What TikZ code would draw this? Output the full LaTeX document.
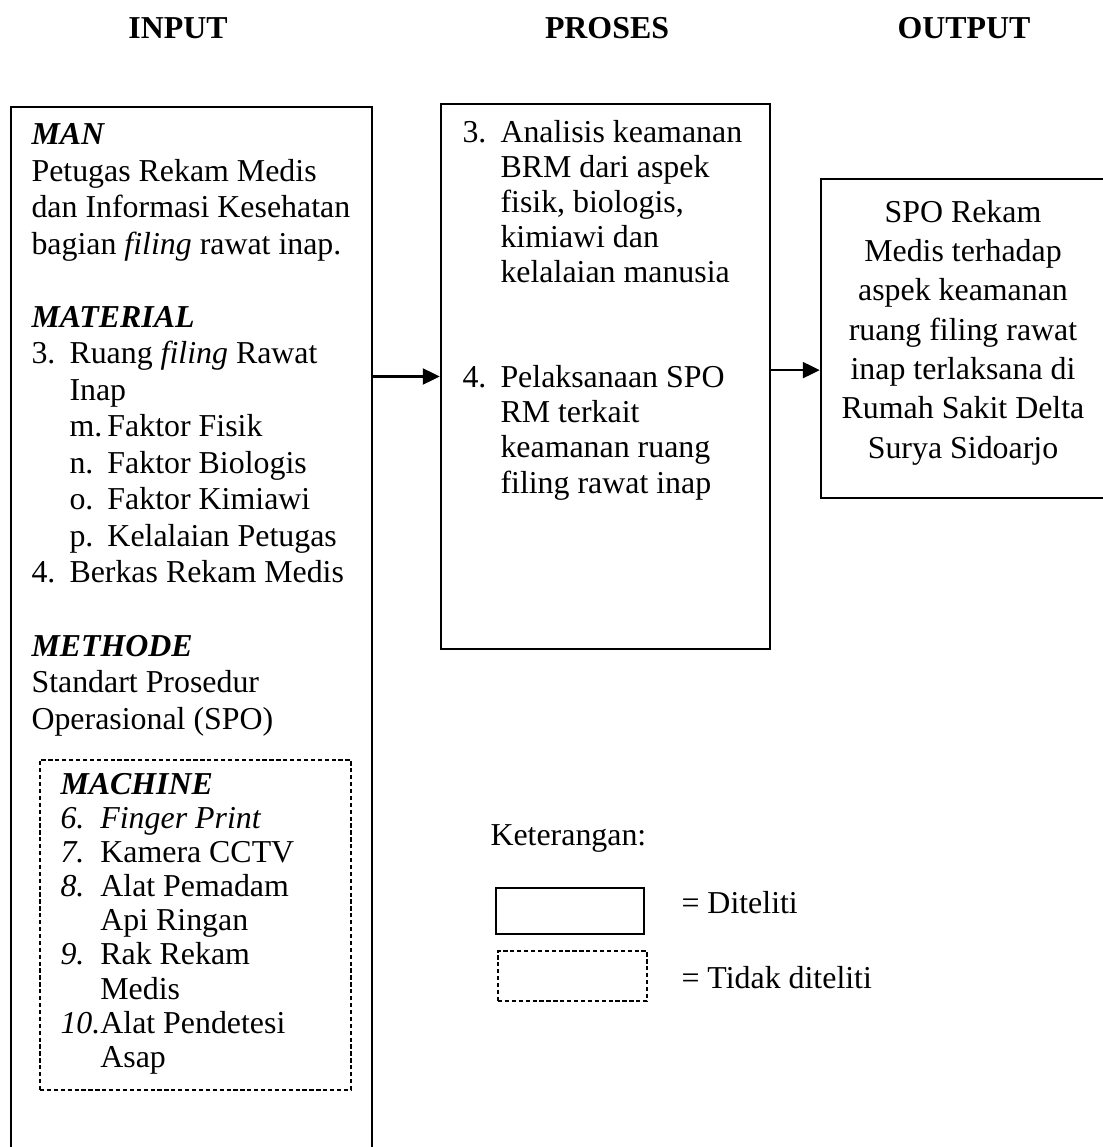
\documentclass[tikz,border=0pt]{standalone}
\usepackage{fontspec}
\setmainfont{Liberation Serif}
\usetikzlibrary{arrows.meta, positioning, fit}

\newcommand{\lbl}[2][14.3pt]{\makebox[#1][l]{#2}}

\begin{document}
\begin{tikzpicture}[
    x=0.3764pt, y=-0.3764pt,
    box/.style={draw, line width=0.9pt, inner sep=0pt},
    dashbox/.style={box, line width=0.75pt, dash pattern=on 1.6pt off 1pt},
    txt/.style={anchor=base west, inner sep=0pt, align=left, font=\fontsize{12}{#1}\selectfont},
    txt/.default=13.74pt,
    heading/.style={anchor=base, inner sep=0pt, font=\fontsize{12}{14}\selectfont\bfseries},
    flow/.style={-{Triangle[length=6.4pt, width=6pt]}, line width=0.9pt}
  ]
  \useasboundingbox (0,0) rectangle (1103,1147);
  \clip (0,0) rectangle (1103,1147);

  \node[heading] (inputhead) at (178,39) {INPUT};
  \node[heading] (proseshead) at (607,39) {PROSES};
  \node[heading] (outputhead) at (964,39) {OUTPUT};

  \node[box, fit={(11,107) (372,1160)}] (input) {};
  \node[box, fit={(441,104) (770,649)}] (proses) {};
  \node[box, fit={(821,179) (1115,498)}] (output) {};
  \node[dashbox, fit={(40,760) (351,1090)}] (machine) {};

  % anchor base = baseline of the last line
  \node[txt] (inputtext) at (31,729) {%
    \textbf{\textit{MAN}}\\
    Petugas Rekam Medis\\
    dan Informasi Kesehatan\\
    bagian \textit{filing} rawat inap.\\[13.74pt]
    \textbf{\textit{MATERIAL}}\\
    \lbl{3.}Ruang \textit{filing} Rawat\\
    \hspace*{14.3pt}Inap\\
    \hspace*{14.3pt}\lbl{m.}Faktor Fisik\\
    \hspace*{14.3pt}\lbl{n.}Faktor Biologis\\
    \hspace*{14.3pt}\lbl{o.}Faktor Kimiawi\\
    \hspace*{14.3pt}\lbl{p.}Kelalaian Petugas\\
    \lbl{4.}Berkas Rekam Medis\\[13.74pt]
    \textbf{\textit{METHODE}}\\
    Standart Prosedur\\
    Operasional (SPO)};

  \node[txt=12.8pt] (machinetext) at (60,1067) {%
    \textbf{\textit{MACHINE}}\\
    \lbl[15pt]{\textit{6.}}\textit{Finger Print}\\
    \lbl[15pt]{\textit{7.}}Kamera CCTV\\
    \lbl[15pt]{\textit{8.}}Alat Pemadam\\
    \hspace*{15pt}Api Ringan\\
    \lbl[15pt]{\textit{9.}}Rak Rekam\\
    \hspace*{15pt}Medis\\
    \lbl[15pt]{\textit{10.}}Alat Pendetesi\\
    \hspace*{15pt}Asap};

  \node[txt=13.2pt] (prosestext) at (462,493) {%
    \lbl{3.}Analisis keamanan\\
    \hspace*{14.3pt}BRM dari aspek\\
    \hspace*{14.3pt}fisik, biologis,\\
    \hspace*{14.3pt}kimiawi dan\\
    \hspace*{14.3pt}kelalaian manusia\\[26.4pt]
    \lbl{4.}Pelaksanaan SPO\\
    \hspace*{14.3pt}RM terkait\\
    \hspace*{14.3pt}keamanan ruang\\
    \hspace*{14.3pt}filing rawat inap};

  \node[txt=14.8pt, anchor=base, align=center] (outputtext) at (963,458) {%
    SPO Rekam\\
    Medis terhadap\\
    aspek keamanan\\
    ruang filing rawat\\
    inap terlaksana di\\
    Rumah Sakit Delta\\
    Surya Sidoarjo};

  \coordinate (outarrow) at ([yshift=2.4pt]proses.east);
  \draw[flow] (input.east |- proses.west) -- (proses.west);
  \draw[flow] (outarrow) -- (outarrow -| output.west);

  \node[txt] (keterangan) at (490,845) {Keterangan:};
  \node[box, fit={(496,888) (644,934)}] (keysolid) {};
  \node[dashbox, fit={(498,951) (647,1001)}] (keydash) {};
  \node[txt] (diteliti) at (681,913) {= Diteliti};
  \node[txt] (tidakditeliti) at (681,988) {= Tidak diteliti};
\end{tikzpicture}
\end{document}
